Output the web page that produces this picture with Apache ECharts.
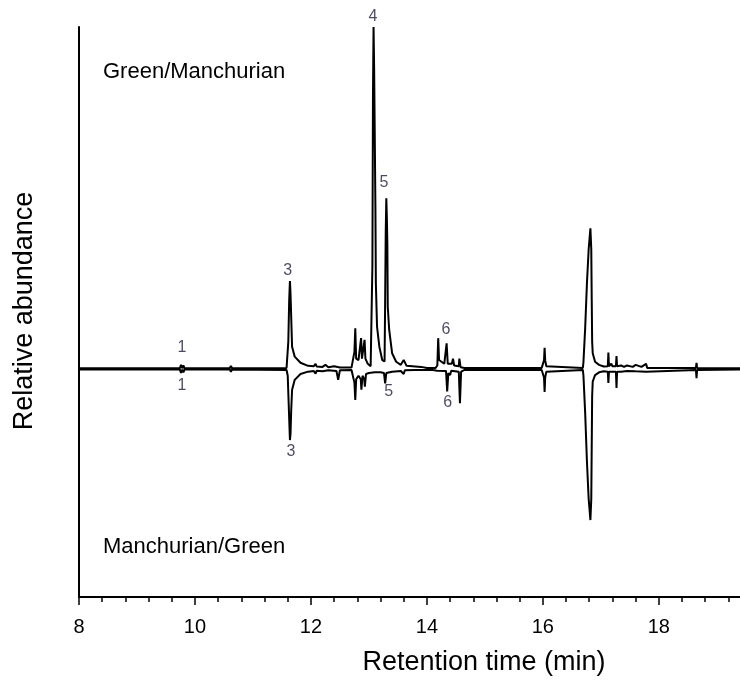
<!DOCTYPE html>
<html>
<head>
<meta charset="utf-8">
<script src="https://cdn.jsdelivr.net/npm/echarts@6/dist/echarts.min.js"></script>
<style>
html,body{margin:0;padding:0;background:#fff;overflow:hidden;}
#chart{width:740px;height:688px;}
</style>
</head>
<body>
<div id="chart"></div>
<script>
// Tick labels of the retention-time axis (min)
const xTickLabels = [8, 10, 12, 14, 16, 18];
// Minor tick positions (min)
const xMinorTicks = [8.4, 8.8, 9.2, 9.6, 10.4, 10.8, 11.2, 11.6, 12.4, 12.8, 13.2, 13.6,
  14.4, 14.8, 15.2, 15.6, 16.4, 16.8, 17.2, 17.6, 18.4, 18.8, 19.2];

// Upper trace: Green/Manchurian  [retention time (min), relative abundance]
const greenManchurian = [
  [8.0,0.2],[9.74,0.2],[9.76,1.2],[9.78,0.2],[9.80,1.0],[9.82,0.2],
  [10.6,0.2],[10.62,0.9],[10.64,0.2],
  [11.58,0.3],[11.60,0.8],[11.61,8],[11.625,20],[11.638,25.7],[11.648,22],[11.66,15],[11.675,6.5],[11.72,3.6],[11.82,1.8],[11.95,0.9],
  [12.05,0.8],[12.08,1.5],[12.10,0.7],[12.20,0.6],[12.25,1.2],[12.30,0.5],[12.40,0.8],[12.50,0.4],[12.70,0.4],
  [12.73,0.8],[12.75,5],[12.765,11.9],[12.78,3],[12.82,2.6],[12.85,3],[12.865,9],[12.88,3],[12.91,3.5],[12.925,8.5],[12.94,3],[12.98,1.5],[13.03,0.8],
  [13.05,0.8],[13.06,30],[13.07,80],[13.08,100],[13.09,88],[13.10,70],[13.112,47.5],[13.12,25],[13.14,12.4],[13.18,6.5],[13.23,2.6],[13.27,2.2],
  [13.28,20],[13.29,40],[13.30,49.9],[13.31,44],[13.318,36.8],[13.325,18.2],[13.35,11.4],[13.40,4.6],[13.47,2.1],[13.55,1.2],[13.60,2.6],[13.65,0.9],[13.90,0.6],[14.0,0.3],
  [14.15,0.3],[14.18,1],[14.195,9],[14.21,2.6],[14.30,1.5],[14.33,2],[14.34,7.5],[14.36,1.5],[14.43,1.5],[14.45,3],[14.47,1],[14.55,0.8],[14.56,3],[14.58,0.5],[14.65,0.3],
  [15.98,0.3],[16.00,0.8],[16.02,2.5],[16.03,6.2],[16.04,2.5],[16.06,0.8],[16.08,0.3],
  [16.69,0.3],[16.70,2],[16.73,12],[16.76,25],[16.79,35],[16.82,41.1],[16.835,35],[16.843,20],[16.85,8],[16.86,4.6],[16.90,2.1],[16.97,1.2],[17.05,0.7],
  [17.12,0.8],[17.13,4.8],[17.14,0.8],[17.18,1.5],[17.20,0.8],[17.26,0.8],[17.27,3.8],[17.28,0.8],
  [17.35,1.0],[17.40,0.6],[17.45,1.0],[17.55,0.6],[17.60,1.2],[17.70,0.6],[17.78,1.5],[17.80,0.3],
  [18.64,0.3],[18.65,1.8],[18.66,0.3],[19.4,0.2]
];

// Lower trace: Manchurian/Green (plotted downward)
const manchurianGreen = [
  [8.0,-0.2],[9.74,-0.2],[9.76,-1.2],[9.78,-0.2],[9.80,-1.0],[9.82,-0.2],
  [10.6,-0.2],[10.62,-0.8],[10.64,-0.2],
  [11.58,-0.3],[11.60,-2],[11.62,-12],[11.638,-20.8],[11.648,-19],[11.66,-12],[11.675,-6.1],[11.72,-3.2],[11.82,-1.5],[11.95,-0.8],
  [12.05,-0.6],[12.08,-1.4],[12.10,-0.5],[12.20,-0.7],[12.30,-0.4],[12.44,-0.6],[12.47,-3.2],[12.50,-0.4],[12.70,-0.3],
  [12.73,-0.5],[12.75,-4],[12.765,-9.1],[12.78,-3],[12.82,-2],[12.86,-3],[12.87,-6.1],[12.89,-2],[12.92,-3],[12.93,-5.2],[12.95,-1.5],
  [13.0,-1.2],[13.1,-1.0],[13.2,-1.0],[13.26,-1.2],[13.28,-4.2],[13.30,-1.2],[13.40,-0.8],[13.55,-0.6],[13.60,-1.5],[13.62,-0.4],[13.8,-0.3],
  [14.10,-0.3],[14.18,-0.5],[14.20,-1],[14.33,-0.6],[14.35,-6.6],[14.37,-1.2],[14.40,-1.8],[14.42,-0.5],[14.55,-0.8],[14.57,-10],[14.59,-0.8],[14.65,-0.3],
  [15.98,-0.3],[16.00,-0.8],[16.02,-2.5],[16.03,-6.7],[16.04,-2.5],[16.06,-0.8],[16.08,-0.3],
  [16.69,-0.3],[16.70,-2],[16.73,-13],[16.76,-27],[16.79,-38],[16.82,-44.2],[16.835,-38],[16.843,-22],[16.85,-8],[16.86,-3.7],[16.90,-1.8],[16.97,-1.0],[17.05,-0.7],
  [17.12,-0.8],[17.13,-4.1],[17.14,-0.8],[17.20,-0.8],[17.26,-0.8],[17.27,-5.6],[17.28,-0.8],
  [17.35,-0.8],[17.45,-0.6],[17.60,-0.7],[17.78,-0.8],[17.80,-0.3],
  [18.64,-0.3],[18.65,-2.7],[18.66,-0.3],[19.4,-0.2]
];

// Peak annotations: [time, abundance, label]
const peakLabels = [
  [9.776, 6.1, '1'], [9.776, -5.0, '1'],
  [11.60, 28.9, '3'], [11.655, -24.3, '3'],
  [13.07, 102.9, '4'],
  [13.26, 54.4, '5'], [13.34, -6.7, '5'],
  [14.33, 11.4, '6'], [14.36, -9.9, '6']
];

const chart = echarts.init(document.getElementById('chart'));
const FONT = 'Liberation Sans, Arial, sans-serif';
chart.setOption({
  animation: false,
  backgroundColor: '#fff',
  grid: { left: 79, right: 0, top: 27, bottom: 91 },
  xAxis: [
    {
      type: 'value', min: 8, max: 19.4, interval: 2, position: 'bottom',
      axisLine: { show: true, onZero: false, lineStyle: { color: '#000', width: 2 } },
      axisTick: { show: true, length: 8, customValues: xTickLabels, lineStyle: { color: '#000', width: 1.5 } },
      axisLabel: {
        show: true, margin: 20, color: '#000', fontFamily: FONT, fontSize: 20,
        customValues: xTickLabels
      },
      splitLine: { show: false }
    },
    {
      type: 'value', min: 8, max: 19.4, interval: 0.4, position: 'bottom',
      axisLine: { show: false, onZero: false },
      axisTick: { show: true, length: 5, customValues: xMinorTicks, lineStyle: { color: '#000', width: 1.5 } },
      axisLabel: { show: false },
      splitLine: { show: false }
    }
  ],
  yAxis: {
    type: 'value', min: -66.7, max: 100,
    axisLine: { show: true, onZero: false, lineStyle: { color: '#000', width: 2 } },
    axisTick: { show: false }, axisLabel: { show: false }, splitLine: { show: false }
  },
  graphic: [
    { type: 'text', left: 103, top: 61, style: { text: 'Green/Manchurian', font: '22px ' + FONT, fill: '#000' } },
    { type: 'text', left: 103, top: 536, style: { text: 'Manchurian/Green', font: '22px ' + FONT, fill: '#000' } },
    { type: 'text', x: 484, y: 663, style: { text: 'Retention time (min)', font: '27px ' + FONT, fill: '#000', align: 'center', verticalAlign: 'middle' } },
    { type: 'text', x: 25, y: 311, rotation: Math.PI / 2, style: { text: 'Relative abundance', font: '27px ' + FONT, fill: '#000', align: 'center', verticalAlign: 'middle' } }
  ],
  series: [
    { type: 'line', xAxisIndex: 0, data: greenManchurian, showSymbol: false, symbol: 'none',
      lineStyle: { color: '#000', width: 2 }, z: 3 },
    { type: 'line', xAxisIndex: 0, data: manchurianGreen, showSymbol: false, symbol: 'none',
      lineStyle: { color: '#000', width: 2 }, z: 3 },
    { type: 'scatter', xAxisIndex: 0, data: peakLabels, symbolSize: 0, silent: true, clip: false,
      label: { show: true, position: 'inside', formatter: p => p.data[2], color: '#1d1d3a', fontFamily: FONT, fontSize: 16 } }
  ]
});
</script>
</body>
</html>
